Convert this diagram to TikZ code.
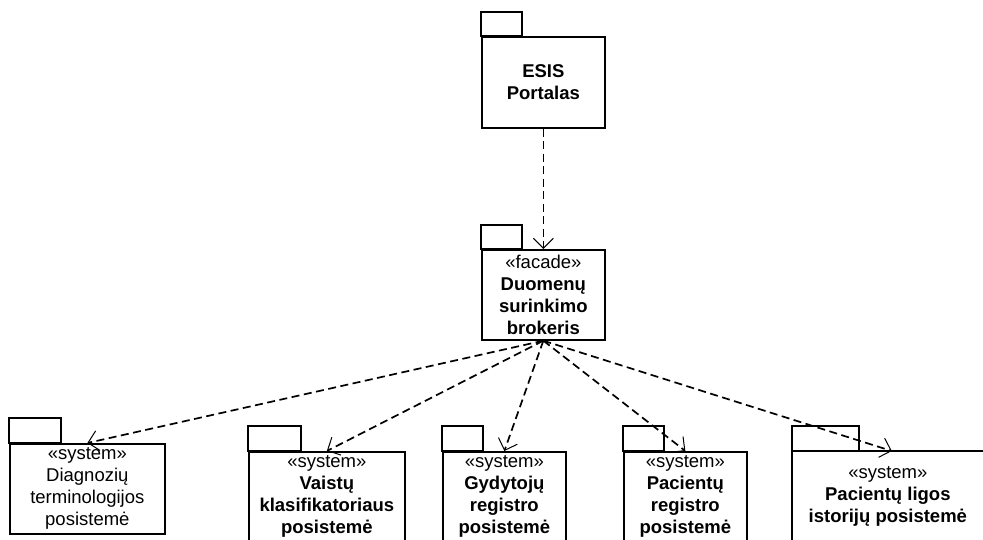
\documentclass[tikz,border=0pt]{standalone}
\usepackage{fontspec}
\setmainfont{Liberation Sans}
\usetikzlibrary{arrows.meta}
\begin{document}
\begin{tikzpicture}[x=1pt,y=-1pt,
  pkg/.style={draw, line width=1.7pt, inner sep=0pt, align=center,
    anchor=north west, minimum height=91pt,
    font=\fontsize{18.5}{22}\selectfont},
  tab/.style={draw, line width=1.7pt},
  dep/.style={draw, line width=1.7pt, dash pattern=on 8pt off 4.5pt,
    -{Straight Barb[length=10pt,width=20pt,line width=1pt]}}
]
\useasboundingbox (0,0) rectangle (983,539);

% package bodies
\node[pkg, minimum width=123pt] (esis) at (481,36) {\bfseries ESIS\\\bfseries Portalas};
\node[pkg, minimum width=123pt, minimum height=90pt] (broker) at (481,249)
  {«facade»\\\bfseries Duomenų\\\bfseries surinkimo\\\bfseries brokeris};
\node[pkg, minimum width=155pt, minimum height=90pt] (diag) at (9,443)
  {«system»\\Diagnozių\\terminologijos\\posistemė};
\node[pkg, minimum width=156pt, minimum height=90pt] (vaist) at (248,451)
  {«system»\\\bfseries Vaistų\\\bfseries klasifikatoriaus\\\bfseries posistemė};
\node[pkg, minimum width=123pt, minimum height=90pt] (gyd) at (442,451)
  {«system»\\\bfseries Gydytojų\\\bfseries registro\\\bfseries posistemė};
\node[pkg, minimum width=123pt, minimum height=90pt] (pacreg) at (623,451)
  {«system»\\\bfseries Pacientų\\\bfseries registro\\\bfseries posistemė};
% the last package runs past the right edge of the page
\node[pkg, draw=none, minimum width=190pt, minimum height=90pt] (paclig) at (792,451)
  {«system»\\\bfseries Pacientų ligos\\\bfseries istorijų posistemė};
\draw[tab] (paclig.north west) rectangle ++(230,90);

% package tabs
\draw[tab] (esis.north west) rectangle ++(41,-24);
\draw[tab] (broker.north west) rectangle ++(41,-24);
\draw[tab] (diag.north west) rectangle ++(52,-25);
\draw[tab] (vaist.north west) rectangle ++(53,-25);
\draw[tab] (gyd.north west) rectangle ++(41,-25);
\draw[tab] (pacreg.north west) rectangle ++(41,-25);
\draw[tab] (paclig.north west) rectangle ++(67,-25);

% dependencies
\draw[dep] (esis.south) -- (broker.north);
\draw[dep] (broker.south) -- (diag.north);
\draw[dep] (broker.south) -- (vaist.north);
\draw[dep] (broker.south) -- (gyd.north);
\draw[dep] (broker.south) -- (pacreg.north);
\draw[dep] (broker.south) -- ([xshift=4pt]paclig.north);
\end{tikzpicture}
\end{document}
